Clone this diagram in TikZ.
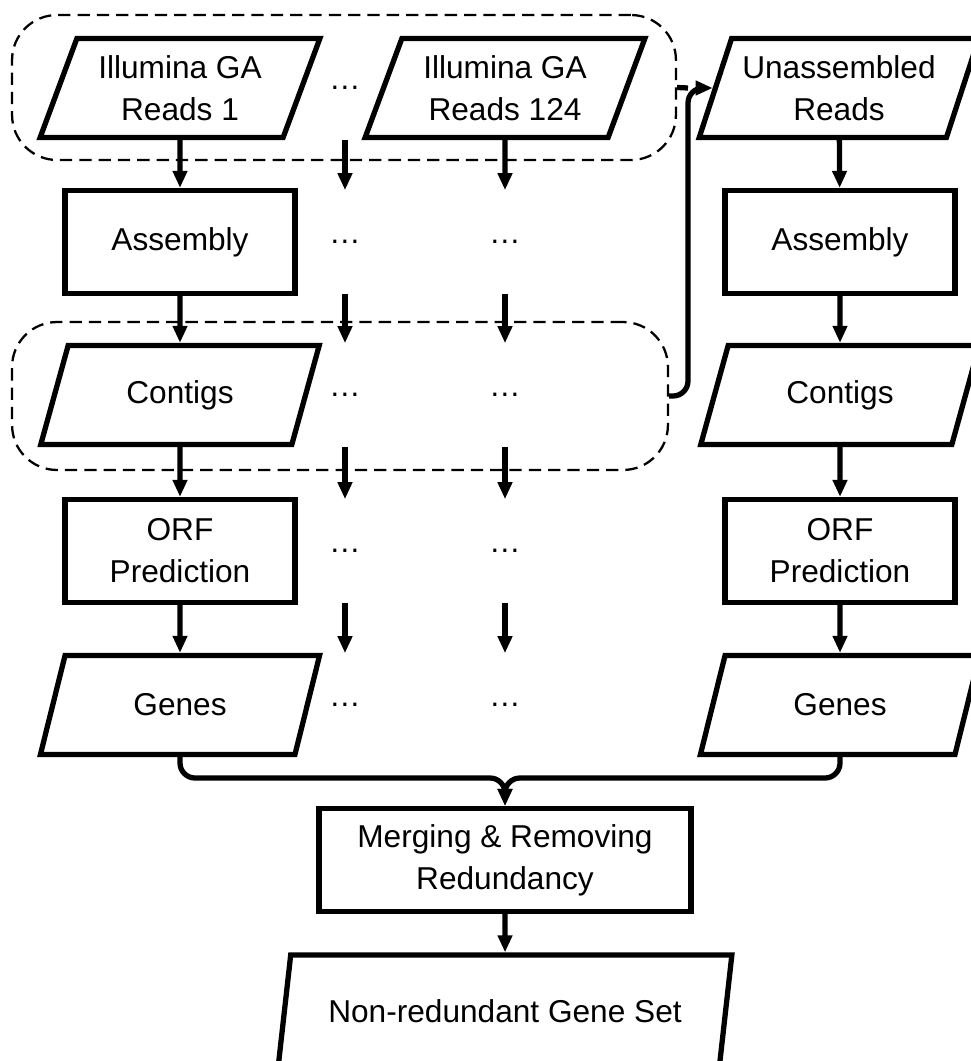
\documentclass[tikz,border=0pt]{standalone}
\usepackage{fontspec}
\setmainfont{Liberation Sans}
\usepackage{tikz}
\usetikzlibrary{shapes,arrows,arrows.meta,positioning,fit,calc}

\begin{document}
\begin{tikzpicture}[
  x=0.02cm, y=-0.02cm,
  proc/.style={draw, rectangle, line width=3pt, minimum width=4.6cm,
               minimum height=2.06cm, align=center, inner sep=0pt},
  data/.style={draw, trapezium, trapezium left angle=66, trapezium right angle=114,
               trapezium stretches=true, line width=3pt, minimum width=5.6cm,
               minimum height=1.98cm, align=center, inner sep=0pt},
  dots/.style={minimum width=1cm, minimum height=2.06cm, inner sep=0pt},
  group/.style={draw, rounded corners=0.9cm, line width=1.3pt,
                dash pattern=on 7pt off 4pt},
  flow/.style={-{Triangle[length=0.34cm, width=0.28cm]}, line width=3pt},
  font=\fontsize{18}{24}\selectfont
]
\useasboundingbox (0,0) rectangle (970,1061);

% Dashed groups
\node[group, minimum width=13.28cm, minimum height=2.9cm]  (grpR) at (344,87.5) {};
\node[group, minimum width=13.12cm, minimum height=2.96cm] (grpC) at (340,396)  {};

% Reads
\node[data] (rd1)   at (180,88) {Illumina GA\\Reads 1};
\node[dots] (dR)    at (345,88) {\dots};
\node[data] (rd124) at (505,88) {Illumina GA\\Reads 124};
\node[data] (unas)  at (839,88) {Unassembled\\Reads};

% Assembly
\node[proc] (asm1) at (180,242) {Assembly};
\node[dots] (dA2)  at (345,242) {\dots};
\node[dots] (dA3)  at (505,242) {\dots};
\node[proc] (asm2) at (840,242) {Assembly};

% Contigs
\node[data] (ctg1) at (180,395) {Contigs};
\node[dots] (dC2)  at (345,395) {\dots};
\node[dots] (dC3)  at (505,395) {\dots};
\node[data] (ctg2) at (840,395) {Contigs};

% ORF prediction
\node[proc] (orf1) at (180,551) {ORF\\Prediction};
\node[dots] (dO2)  at (345,551) {\dots};
\node[dots] (dO3)  at (505,551) {\dots};
\node[proc] (orf2) at (840,551) {ORF\\Prediction};

% Genes
\node[data] (gen1) at (180,705) {Genes};
\node[dots] (dG2)  at (345,705) {\dots};
\node[dots] (dG3)  at (505,705) {\dots};
\node[data] (gen2) at (840,705) {Genes};

% Merging and final set
\node[proc, minimum width=7.44cm] (merge) at (505,860) {Merging \& Removing\\Redundancy};
\node[data, minimum width=9.1cm, minimum height=2.24cm] (nrgs) at (505,1011)
  {Non-redundant Gene Set};

\coordinate (join) at (688,88);
\coordinate (mj)   at (505,778);

% Column arrows
\draw[flow] (rd1)   -- (asm1);
\draw[flow] (dR)    -- (dA2);
\draw[flow] (rd124) -- (dA3);
\draw[flow] (unas)  -- (asm2);
\draw[flow] (asm1)  -- (ctg1);
\draw[flow] (dA2)   -- (dC2);
\draw[flow] (dA3)   -- (dC3);
\draw[flow] (asm2)  -- (ctg2);
\draw[flow] (ctg1)  -- (orf1);
\draw[flow] (dC2)   -- (dO2);
\draw[flow] (dC3)   -- (dO3);
\draw[flow] (ctg2)  -- (orf2);
\draw[flow] (orf1)  -- (gen1);
\draw[flow] (dO2)   -- (dG2);
\draw[flow] (dO3)   -- (dG3);
\draw[flow] (orf2)  -- (gen2);

% Leftover reads to the right branch
\draw[line width=3pt] (grpR.east) -- (join);
\draw[flow, rounded corners=0.3cm] (grpC.east) -| (join) -- (unas.west);

% Merge
\draw[flow, rounded corners=0.3cm] (gen1.south) |- (mj) -- (merge.north);
\draw[flow, rounded corners=0.3cm] (gen2.south) |- (mj) -- (merge.north);
\draw[flow] (merge) -- (nrgs);
\end{tikzpicture}
\end{document}
